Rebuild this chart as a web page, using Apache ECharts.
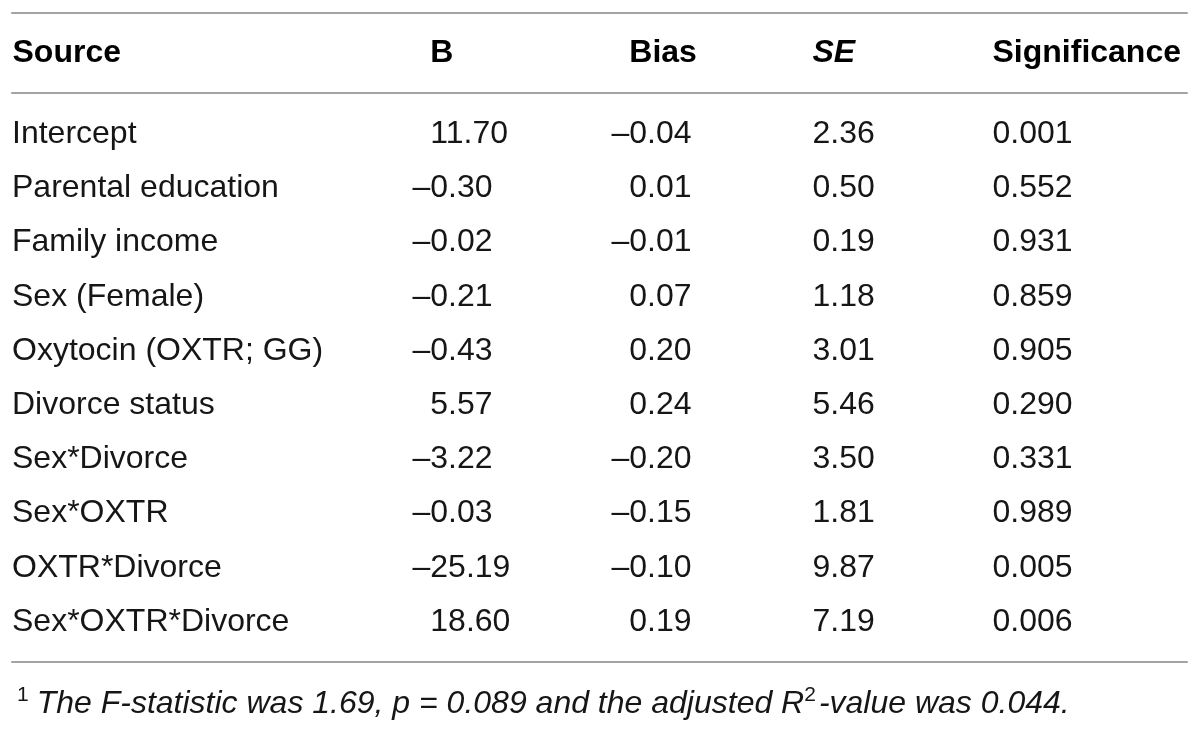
<!DOCTYPE html>
<html><head><meta charset="utf-8">
<script src="https://cdn.jsdelivr.net/npm/echarts@6/dist/echarts.min.js"></script>
<style>html,body{margin:0;padding:0;background:#fff}#c{width:1200px;height:730px}</style>
</head><body><div id="c"></div>
<script>
// ---- data ----
const sources = ['Intercept','Parental education','Family income','Sex (Female)','Oxytocin (OXTR; GG)','Divorce status','Sex*Divorce','Sex*OXTR','OXTR*Divorce','Sex*OXTR*Divorce'];
const bValues = [11.70,-0.30,-0.02,-0.21,-0.43,5.57,-3.22,-0.03,-25.19,18.60];
const biasValues = [-0.04,0.01,-0.01,0.07,0.20,0.24,-0.20,-0.15,-0.10,0.19];
const seValues = [2.36,0.50,0.19,1.18,3.01,5.46,3.50,1.81,9.87,7.19];
const sigValues = [0.001,0.552,0.931,0.859,0.905,0.290,0.331,0.989,0.005,0.006];
const headers = ['Source','B','Bias','SE','Significance'];
const footnoteParts = ['1','The F-statistic was 1.69, p = 0.089 and the adjusted R','2','-value was 0.044.'];

// ---- layout / style ----
const FONT = '"Liberation Sans", Arial, Helvetica, sans-serif';
const TXT = '#161616';
const RULE = '#a3a3a3';
const colX = [0, 400, 599, 800, 980];
const columns = [
  {values: bValues, dec: 2, x: colX[1], pad: true},
  {values: biasValues, dec: 2, x: colX[2], pad: true},
  {values: seValues, dec: 2, x: colX[3], pad: false},
  {values: sigValues, dec: 3, x: colX[4], pad: false}
];
const headerPad = [false, true, true, false, false];
const headerItalic = [false, false, false, true, false];

function fmt(v, dec) { return v < 0 ? '\u2013' + (-v).toFixed(dec) : v.toFixed(dec); }

const ghost = {color: 'rgba(0,0,0,0)', fontSize: 32, fontFamily: FONT};
const hiddenItem = {color: 'rgba(0,0,0,0)', opacity: 1};

const bodySeries = columns.map(col => ({
  type: 'scatter', xAxisIndex: 0, yAxisIndex: 0,
  symbolSize: 1, itemStyle: hiddenItem,
  emphasis: {disabled: true},
  data: col.values.map((v, i) => [col.x, sources[i], v]),
  label: {
    show: true, position: 'right', distance: 0, opacity: 1,
    fontSize: 32, fontFamily: FONT, color: TXT,
    formatter: p => ((col.pad && p.value[2] >= 0) ? '{g|\u2013}' : '') + fmt(p.value[2], col.dec),
    rich: {g: ghost}
  }
}));

const headerSeries = {
  type: 'scatter', xAxisIndex: 1, yAxisIndex: 1,
  symbolSize: 1, itemStyle: hiddenItem,
  emphasis: {disabled: true},
  data: headers.map((h, i) => ({value: [colX[i], 'header'], name: h, pad: headerPad[i], it: headerItalic[i]})),
  label: {
    show: true, position: 'right', distance: 0, opacity: 1,
    fontSize: 32, fontFamily: FONT, color: '#000', fontWeight: 'bold',
    formatter: p => (p.data.pad ? '{g|\u2013}' : '') + (p.data.it ? '{bi|' + p.data.name + '}' : '{b|' + p.data.name + '}'),
    rich: {
      g: Object.assign({}, ghost, {fontWeight: 'bold'}),
      b: {fontSize: 32, fontFamily: FONT, fontWeight: 'bold', color: '#000'},
      bi: {fontSize: 32, fontFamily: FONT, fontWeight: 'bold', fontStyle: 'italic', color: '#000'}
    }
  }
};

const hiddenAxisParts = {axisTick: {show: false}, axisLabel: {show: false}, splitLine: {show: false}};
const ruleLine = {show: true, lineStyle: {color: RULE, width: 2}};

const option = {
  animation: false,
  backgroundColor: '#fff',
  textStyle: {fontFamily: FONT},
  title: {
    left: 12, top: 680,
    text: '{s|' + footnoteParts[0] + '}{it|' + footnoteParts[1] + '}{s2|' + footnoteParts[2] + '}{it|' + footnoteParts[3] + '}',
    textStyle: {
      fontWeight: 'normal',
      rich: {
        s: {fontSize: 21, fontFamily: FONT, fontWeight: 'normal', color: TXT, verticalAlign: 'top', lineHeight: 38, padding: [0, 8, 16, 0]},
        s2: {fontSize: 21, fontFamily: FONT, fontWeight: 'normal', color: TXT, verticalAlign: 'top', lineHeight: 38, padding: [0, 3, 16, 0]},
        it: {fontSize: 32, fontFamily: FONT, fontWeight: 'normal', color: TXT, fontStyle: 'italic', lineHeight: 38}
      }
    }
  },
  grid: [
    {left: 12, right: 13, top: 107, height: 542},
    {left: 12, right: 13, top: 13, height: 80}
  ],
  xAxis: [
    Object.assign({gridIndex: 0, type: 'value', min: 0, max: 1175, position: 'bottom', offset: 13, axisLine: ruleLine}, hiddenAxisParts),
    Object.assign({gridIndex: 1, type: 'value', min: 0, max: 1175, position: 'bottom', axisLine: ruleLine}, hiddenAxisParts),
    Object.assign({gridIndex: 1, type: 'value', min: 0, max: 1175, position: 'top', axisLine: ruleLine}, hiddenAxisParts)
  ],
  yAxis: [
    {gridIndex: 0, type: 'category', data: sources, inverse: true,
     axisLine: {show: false}, axisTick: {show: false}, splitLine: {show: false},
     axisLabel: {inside: true, margin: 0, align: 'left', fontSize: 32, fontFamily: FONT, color: TXT}},
    {gridIndex: 1, type: 'category', data: ['header'], show: false}
  ],
  series: bodySeries.concat([headerSeries])
};

const chart = echarts.init(document.getElementById('c'));
chart.setOption(option);
</script>
</body></html>
